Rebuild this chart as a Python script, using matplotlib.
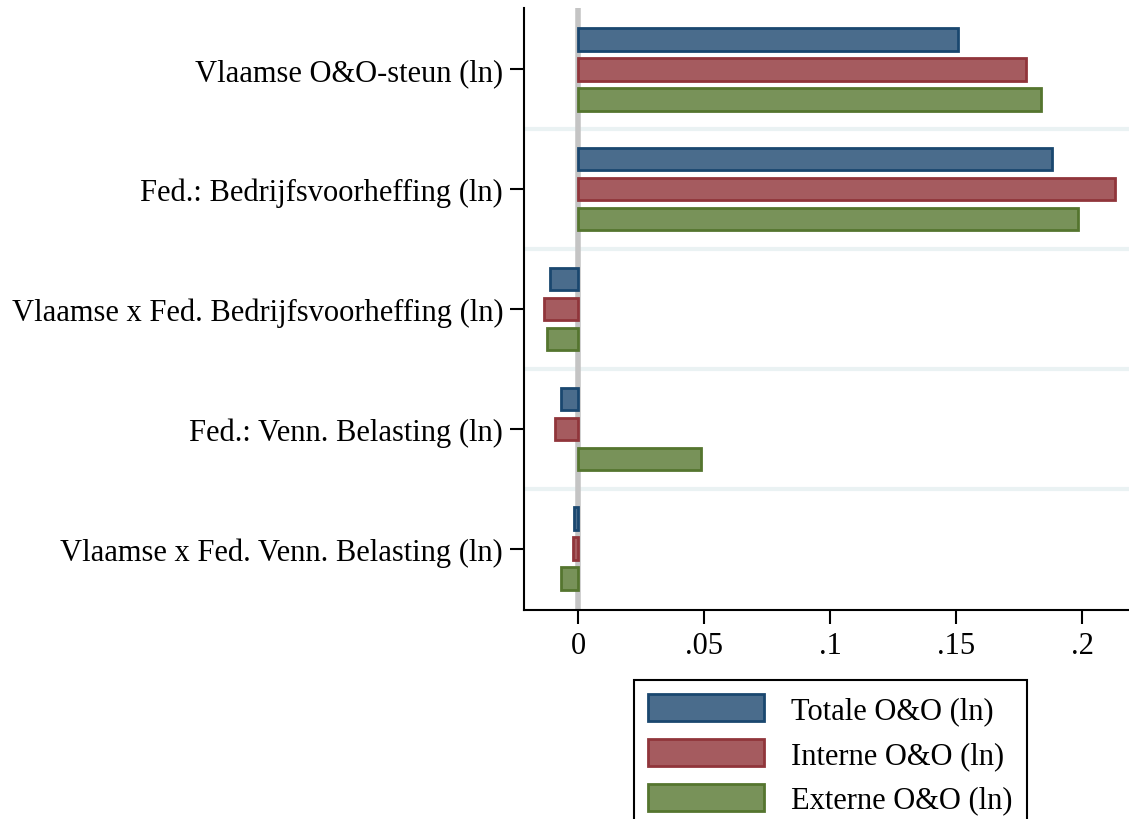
import matplotlib
matplotlib.use("Agg")
import matplotlib.pyplot as plt
from matplotlib.patches import Patch
import numpy as np

plt.rcParams["font.family"] = ["Liberation Serif", "DejaVu Serif"]

categories = [
    "Vlaamse O&O-steun (ln)",
    "Fed.: Bedrijfsvoorheffing (ln)",
    "Vlaamse x Fed. Bedrijfsvoorheffing (ln)",
    "Fed.: Venn. Belasting (ln)",
    "Vlaamse x Fed. Venn. Belasting (ln)",
]
series_labels = ["Totale O&O (ln)", "Interne O&O (ln)", "Externe O&O (ln)"]
totale = [0.1506, 0.1879, -0.0113, -0.0069, -0.0018]
interne = [0.1776, 0.2129, -0.0137, -0.0093, -0.0022]
externe = [0.1835, 0.1982, -0.0125, 0.0486, -0.0069]

xticks = [0, 0.05, 0.1, 0.15, 0.2]
xtick_labels = ["0", ".05", ".1", ".15", ".2"]

FILLS = ["#4A6C8C", "#A55B5F", "#789259"]
EDGES = ["#1A476F", "#90353B", "#55752F"]

fig = plt.figure(figsize=(11.29, 8.20), dpi=100)
ax = fig.add_axes([524 / 1129, 1 - 611 / 820, (1129 - 524) / 1129, (611 - 9) / 820])

y = np.arange(len(categories))
offsets = [-0.25, 0.0, 0.25]
for vals, off, fc, ec in zip([totale, interne, externe], offsets, FILLS, EDGES):
    ax.barh(y + off, vals, height=0.19, color=fc, edgecolor=ec, linewidth=2, zorder=3)

for sep in np.arange(0.5, len(categories) - 0.5):
    ax.axhline(sep, color="#EAF2F3", linewidth=3, zorder=1)
ax.axvline(0, color="#C4C4C4", linewidth=4, zorder=2)

ax.set_xlim(-0.0216, 0.2185)
ax.set_ylim(len(categories) - 0.49, -0.51)
ax.set_yticks(y)
ax.set_yticklabels(categories, fontsize=22)
ax.set_xticks(xticks)
ax.set_xticklabels(xtick_labels, fontsize=22)
ax.tick_params(axis="both", length=10, width=1.5, color="black", pad=5)

for side in ["top", "right"]:
    ax.spines[side].set_visible(False)
for side in ["left", "bottom"]:
    ax.spines[side].set_linewidth(1.5)

handles = [Patch(facecolor=fc, edgecolor=ec, linewidth=2) for fc, ec in zip(FILLS, EDGES)]
leg = fig.legend(
    handles,
    series_labels,
    loc="upper left",
    bbox_to_anchor=(634 / 1129, 1 - 681 / 820),
    fontsize=22,
    handlelength=3.8,
    handleheight=1.0,
    labelspacing=0.45,
    handletextpad=0.9,
    borderpad=0.45,
    borderaxespad=0,
    fancybox=False,
    framealpha=1,
    edgecolor="black",
)
leg.get_frame().set_linewidth(1.5)

fig.savefig("out.png", dpi=100)
